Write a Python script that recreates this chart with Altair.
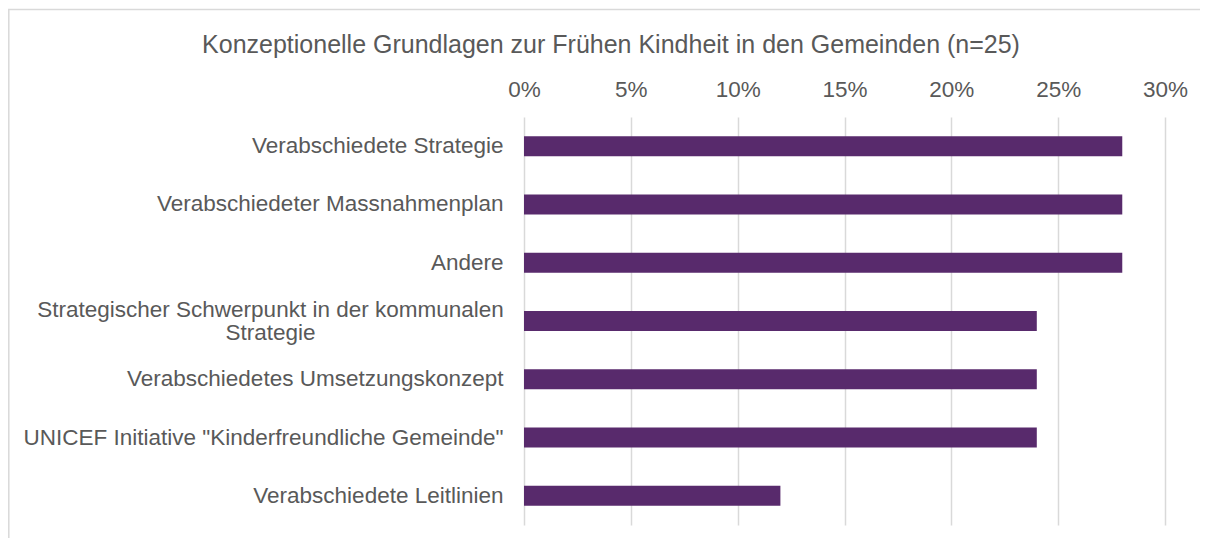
import altair as alt
import pandas as pd

categories = [
    "Verabschiedete Strategie",
    "Verabschiedeter Massnahmenplan",
    "Andere",
    "Strategischer Schwerpunkt in der kommunalen|Strategie",
    "Verabschiedetes Umsetzungskonzept",
    'UNICEF Initiative "Kinderfreundliche Gemeinde"',
    "Verabschiedete Leitlinien",
]
values = [0.28, 0.28, 0.28, 0.24, 0.24, 0.24, 0.12]
tick_values = [0, 0.05, 0.10, 0.15, 0.20, 0.25, 0.30]
title_text = "Konzeptionelle Grundlagen zur Frühen Kindheit in den Gemeinden (n=25)"

df = pd.DataFrame({"cat": categories, "val": values})

FONT = "Liberation Sans"
GRAY = "#595959"
WRAP = "indexof(datum.value, '|') >= 0"

bars = alt.Chart(df).mark_bar(color="#582A6C").encode(
    x=alt.X(
        "val:Q",
        scale=alt.Scale(domain=[0, 0.30], nice=False, zero=True),
        axis=alt.Axis(
            orient="top",
            format=".0%",
            values=tick_values,
            title=None,
            domain=False,
            ticks=False,
            grid=True,
            gridColor="#D9D9D9",
            gridWidth=1.5,
            labelFlush=False,
            labelFont=FONT,
            labelFontSize=22.5,
            labelColor=GRAY,
            labelPadding=16,
        ),
    ),
    y=alt.Y(
        "cat:N",
        sort=None,
        scale=alt.Scale(paddingInner=0.657, paddingOuter=0.33),
        axis=alt.Axis(
            title=None,
            domain=False,
            ticks=False,
            labelFont=FONT,
            labelFontSize=22.5,
            labelColor=GRAY,
            labelAlign={"condition": {"test": WRAP, "value": "center"}, "value": "right"},
            labelPadding={"condition": {"test": WRAP, "value": 254}, "value": 21},
            labelLimit=700,
            labelLineHeight=23,
            labelOffset={"condition": {"test": WRAP, "value": -11.5}, "value": 0},
            labelExpr="split(datum.label, '|')",
        ),
    ),
)

frame = alt.Chart(pd.DataFrame({"a": [0]})).mark_rect(
    fill=None, stroke="#D9D9D9", strokeWidth=1.5
).encode(
    x=alt.value(-515.2), x2=alt.value(720), y=alt.value(-107.5), y2=alt.value(460)
)

title = alt.Chart(pd.DataFrame({"t": [title_text]})).mark_text(
    font=FONT, fontSize=25, color=GRAY, align="center", baseline="alphabetic"
).encode(
    text="t:N", x=alt.value(87), y=alt.value(-64)
)

chart = alt.layer(frame, title, bars).properties(
    width=641,
    height=408,
    autosize=alt.AutoSizeParams(type="none"),
    padding={"left": 516, "top": 109, "right": 35, "bottom": 13},
).configure_view(stroke=None)

chart.save("out.html", embed_options={"renderer": "svg", "actions": False})
